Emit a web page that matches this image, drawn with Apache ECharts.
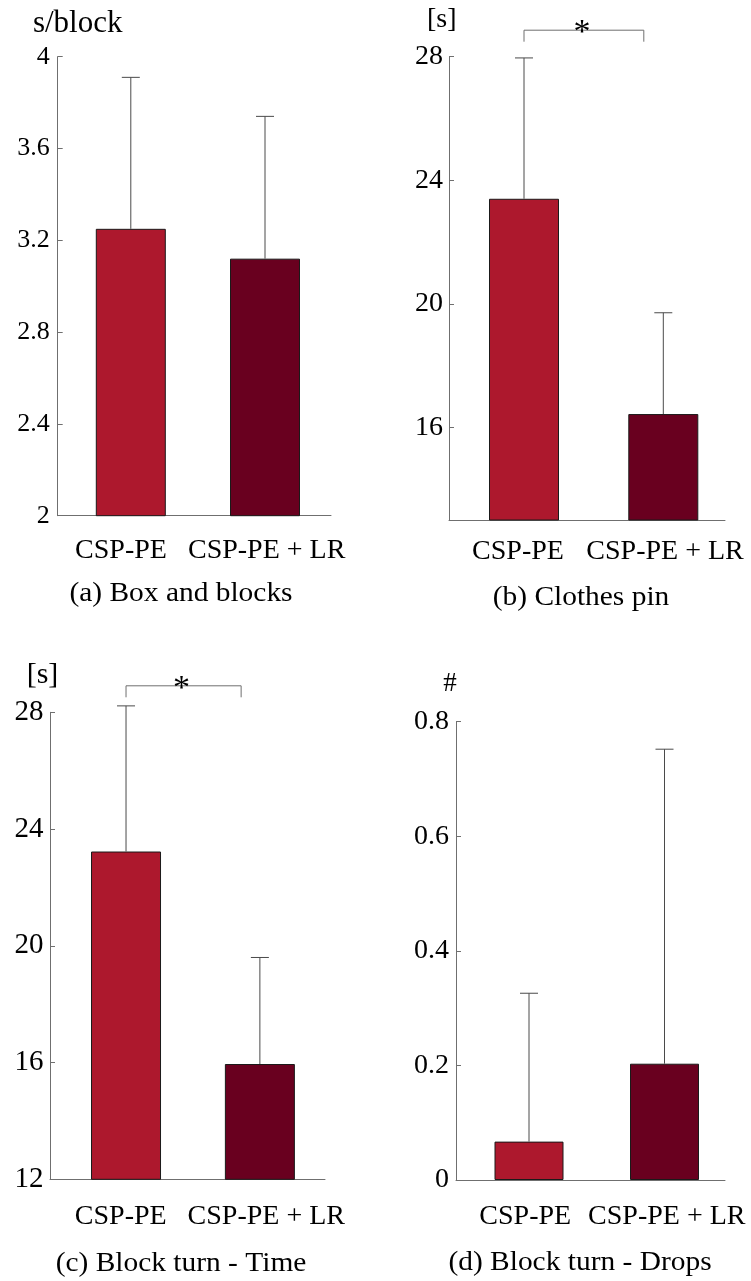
<!DOCTYPE html>
<html><head><meta charset="utf-8">
<script src="https://cdn.jsdelivr.net/npm/echarts@6/dist/echarts.min.js"></script>
<style>html,body{margin:0;padding:0;background:#fff}#c{width:751px;height:1281px}</style>
</head><body><div id="c"></div>
<script>
// ---- data ----
const categories = ['CSP-PE', 'CSP-PE + LR'];
const boxBlocksMean = [3.25, 3.12];
const boxBlocksSD = [0.66, 0.62];
const clothesPinMean = [23.4, 16.43];
const clothesPinSD = [4.56, 3.28];
const turnTimeMean = [23.23, 15.95];
const turnTimeSD = [4.99, 3.65];
const turnDropsMean = [0.067, 0.203];
const turnDropsSD = [0.259, 0.549];
const ticksA = [2, 2.4, 2.8, 3.2, 3.6, 4];
const ticksB = [16, 20, 24, 28];
const ticksC = [12, 16, 20, 24, 28];
const ticksD = [0, 0.2, 0.4, 0.6, 0.8];
const rangeA = [2, 4];
const rangeB = [13, 28];
const rangeC = [12, 28];
const rangeD = [0, 0.8];
const unitNames = ['s/block', '[s]', '[s]', '#'];
const captions = ['(a) Box and blocks', '(b) Clothes pin', '(c) Block turn - Time', '(d) Block turn - Drops'];
const significant = [false, true, true, false];

// ---- style / layout ----
const FONT = 'Liberation Serif';
const barColors = ['#AD182D', '#69001F'];
const axisColor = '#6f6f6f';
const errColor = '#4a4a4a';

const panels = [
  {mean: boxBlocksMean, sd: boxBlocksSD, range: rangeA, ticks: ticksA,
   axisGrid: {left: 57.7, top: 56.7, width: 273.3, height: 459}, barGrid: {left: 63.7, width: 268.4},
   barWidth: 70, tickSize: 26, labelMargin: 8, nameSize: 31, nameDx: 20, nameGap: 33, xMargin: 21,
   labelShift: [-5, 4], capX: 181, capY: 594},
  {mean: clothesPinMean, sd: clothesPinSD, range: rangeB, ticks: ticksB,
   axisGrid: {left: 449, top: 56.7, width: 276, height: 463.3}, barGrid: {left: 454.35, width: 278.6},
   barWidth: 70, tickSize: 28, labelMargin: 6, nameSize: 28, nameDx: -7.3, nameGap: 36.7, xMargin: 17.5,
   labelShift: [0, 9], capX: 581, capY: 597.5},
  {mean: turnTimeMean, sd: turnTimeSD, range: rangeC, ticks: ticksC,
   axisGrid: {left: 50, top: 712.3, width: 275, height: 467}, barGrid: {left: 59.1, width: 267.7},
   barWidth: 70, tickSize: 29, labelMargin: 6.5, nameSize: 30, nameDx: -7.5, nameGap: 37.6, xMargin: 23,
   labelShift: [2, 10], capX: 181, capY: 1264},
  {mean: turnDropsMean, sd: turnDropsSD, range: rangeD, ticks: ticksD,
   axisGrid: {left: 456, top: 721.7, width: 269, height: 458.3}, barGrid: {left: 461.25, width: 271},
   barWidth: 69, tickSize: 28, labelMargin: 7, nameSize: 27, nameDx: -6, nameGap: 37.7, xMargin: 22.5,
   labelShift: [2, 9], capX: 580, capY: 1262.5}
];

function shiftPad(dx) { return dx >= 0 ? [0, 0, 0, 2 * dx] : [0, -2 * dx, 0, 0]; }

const grid = [], xAxis = [], yAxis = [], series = [], graphic = [];
panels.forEach((p, i) => {
  const ga = 2 * i, gb = 2 * i + 1;
  grid.push({left: p.axisGrid.left, top: p.axisGrid.top, width: p.axisGrid.width, height: p.axisGrid.height});
  grid.push({left: p.barGrid.left, top: p.axisGrid.top, width: p.barGrid.width, height: p.axisGrid.height});
  const labStyle = {fontFamily: FONT, fontSize: 28, color: '#000'};
  xAxis.push({type: 'category', gridIndex: ga, data: categories,
    axisLine: {onZero: false, lineStyle: {color: axisColor, width: 1}},
    axisTick: {show: false},
    axisLabel: {interval: 0, hideOverlap: false, color: '#000', fontFamily: FONT, fontSize: 28, margin: p.xMargin,
      formatter: (v, idx) => '{c' + idx + '|' + v + '}',
      rich: {c0: Object.assign({padding: shiftPad(p.labelShift[0])}, labStyle),
             c1: Object.assign({padding: shiftPad(p.labelShift[1])}, labStyle)}}});
  xAxis.push({type: 'category', gridIndex: gb, data: categories, show: false});
  yAxis.push({type: 'value', gridIndex: ga, min: p.range[0], max: p.range[1],
    name: unitNames[i], nameLocation: 'end', nameGap: p.nameGap,
    nameTextStyle: {color: '#000', fontFamily: FONT, fontSize: p.nameSize, align: 'center', verticalAlign: 'middle', padding: shiftPad(p.nameDx)},
    splitLine: {show: false},
    axisLine: {show: true, lineStyle: {color: axisColor, width: 1}},
    axisTick: {show: true, inside: true, length: 5, customValues: p.ticks, lineStyle: {color: axisColor}},
    axisLabel: {color: '#000', fontFamily: FONT, fontSize: p.tickSize, margin: p.labelMargin, customValues: p.ticks}});
  yAxis.push({type: 'value', gridIndex: gb, min: p.range[0], max: p.range[1], show: false, splitLine: {show: false}});
  series.push({type: 'bar', xAxisIndex: gb, yAxisIndex: gb, barWidth: p.barWidth,
    data: p.mean.map((v, k) => ({value: v, itemStyle: {color: barColors[k], borderColor: '#1a1a1a', borderWidth: 1}})),
    silent: true, animation: false});
  series.push({type: 'custom', xAxisIndex: gb, yAxisIndex: gb, clip: false, silent: true, animation: false, z: 3,
    data: p.mean.map((v, k) => [k, v, p.sd[k]]),
    encode: {x: 0, y: 1},
    renderItem: (params, api) => {
      const x = api.value(0), m = api.value(1), s = api.value(2);
      const p0 = api.coord([x, m]), p1 = api.coord([x, m + s]);
      const hw = 9;
      const st = {stroke: errColor, lineWidth: 1};
      return {type: 'group', children: [
        {type: 'line', shape: {x1: p0[0], y1: p0[1], x2: p1[0], y2: p1[1]}, style: st},
        {type: 'line', shape: {x1: p1[0] - hw, y1: p1[1], x2: p1[0] + hw, y2: p1[1]}, style: st}
      ]};
    }});
  graphic.push({type: 'text', x: p.capX, y: p.capY, scaleX: 1.09,
    style: {text: captions[i], fontFamily: FONT, fontSize: 27, fill: '#000', align: 'center', verticalAlign: 'middle'}});
});

const chart = echarts.init(document.getElementById('c'), null, {renderer: 'canvas'});
chart.setOption({animation: false, backgroundColor: '#fff', grid, xAxis, yAxis, series, graphic});

// significance brackets, positioned through the bar grids' scales
const extra = [];
panels.forEach((p, i) => {
  if (!significant[i]) return;
  const gb = 2 * i + 1;
  const c0 = chart.convertToPixel({xAxisIndex: gb}, 0);
  const c1 = chart.convertToPixel({xAxisIndex: gb}, 1);
  const top = chart.convertToPixel({yAxisIndex: gb}, p.range[1]);
  const xl = c0, xr = c0 + 0.86 * (c1 - c0);
  const yb = top - 26.5, yd = top - 15;
  const st = {stroke: axisColor, lineWidth: 1, fill: null};
  extra.push({type: 'polyline', shape: {points: [[xl, yd], [xl, yb], [xr, yb], [xr, yd]]}, style: st, silent: true});
  extra.push({type: 'text', x: (xl + xr) / 2 - 2, y: yb + 3,
    style: {text: '*', fontFamily: FONT, fontSize: 34, fill: '#000', align: 'center', verticalAlign: 'middle'}});
});
chart.setOption({graphic: graphic.concat(extra)});
</script></body></html>
